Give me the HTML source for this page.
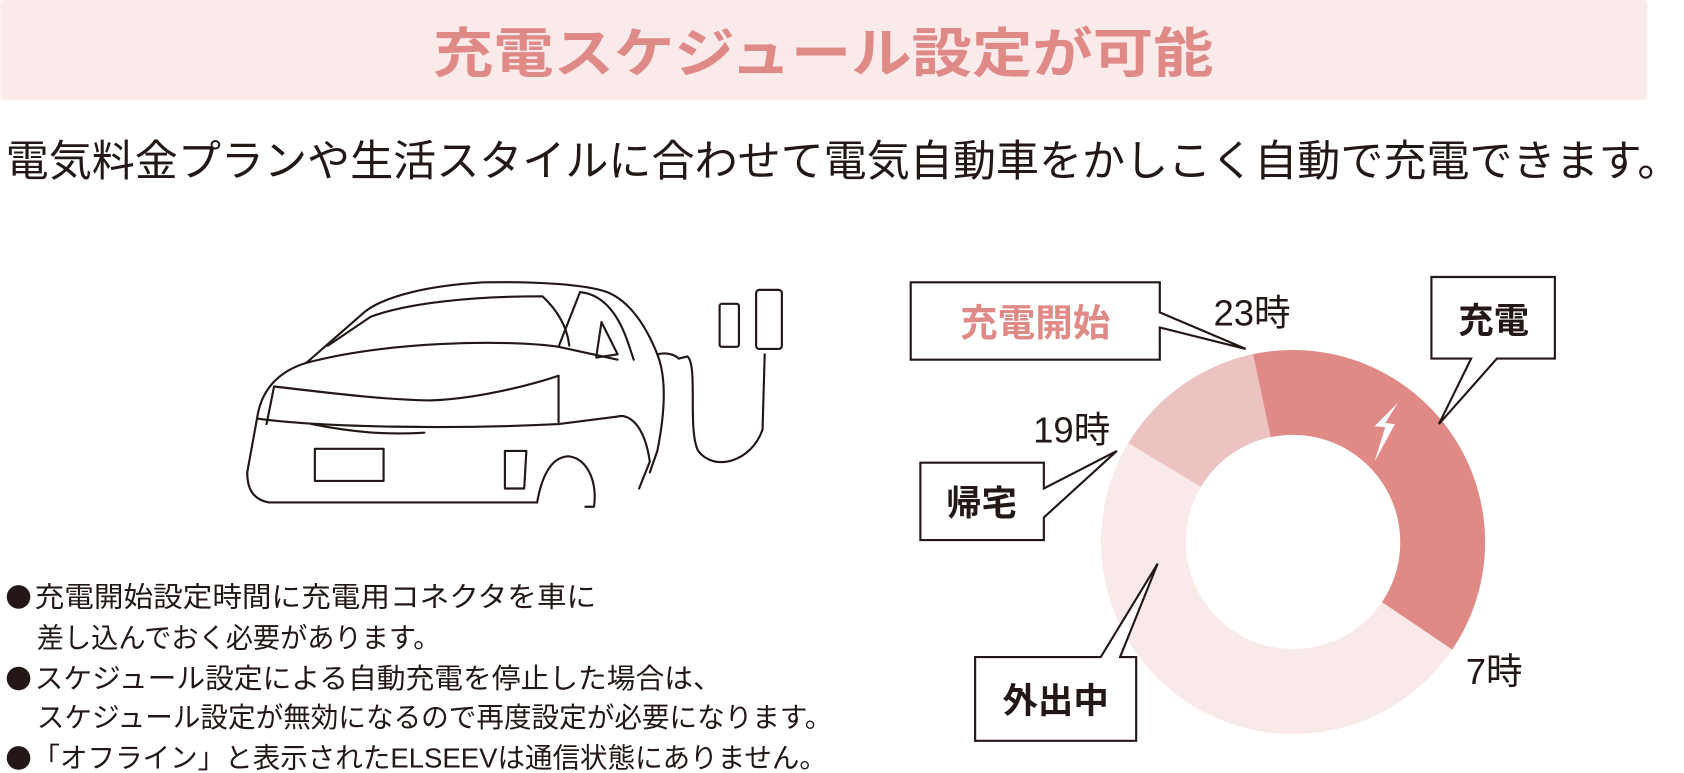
<!DOCTYPE html>
<html><head><meta charset="utf-8"><style>
html,body{margin:0;padding:0;background:#fff;}
svg{display:block;}
text{font-family:"Liberation Sans","Noto Sans CJK JP",sans-serif;}
</style></head><body>
<svg width="1684" height="773" viewBox="0 0 1568 720" xmlns="http://www.w3.org/2000/svg">
<rect x="0" y="0" width="1534" height="93" rx="3" fill="#fbeaea"/>
<text x="403" y="67" textLength="727" lengthAdjust="spacingAndGlyphs" font-size="50" font-weight="bold" fill="#e08a88">充電スケジュール設定が可能</text>
<text x="5" y="164" textLength="1560" lengthAdjust="spacingAndGlyphs" font-size="40" fill="#231815">電気料金プランや生活スタイルに合わせて電気自動車をかしこく自動で充電できます。</text>

<!-- car -->
<g fill="none" stroke="#231815" stroke-width="2" stroke-linejoin="round" stroke-linecap="round">
<path d="M240 385 C245 360 262 345 285 338 L340 290 C360 275 400 266 450 263 C500 262 545 265 565 272 C585 280 600 300 612 330 C620 350 620 380 612 420 L605 440"/>
<path d="M285 338 C360 318 470 316 520 323 L575 335"/>
<path d="M305 322 L345 295 C380 282 440 276 505 276 C520 290 528 305 530 322"/>
<path d="M240 385 L230 440 C230 455 235 465 250 468 L500 468"/>
<path d="M240 390 C300 398 420 400 520 395 L575 388"/>
<path d="M255 360 C300 365 350 372 400 373 C440 372 490 360 520 350"/>
<path d="M255 360 L248 395 M520 350 L520 395"/>
<path d="M290 395 C330 403 360 405 395 403"/>
<rect x="293" y="418" width="64" height="30"/>
<path d="M470 420 L490 420 L488 455 L470 455 Z"/>
<path d="M500 468 C505 440 515 425 530 425 C548 428 556 450 553 472 L545 472"/>
<path d="M520 323 L540 272 M540 272 C560 274 575 290 585 320 L590 335"/>
<path d="M560 300 L575 330 L555 333 Z"/>
<path d="M575 388 C585 385 600 395 605 430 L595 455"/>
<path d="M612 330 C620 328 628 330 632 334"/>
<path d="M632 334 L640 332 C650 340 640 400 650 420 C665 440 700 430 710 400 L712 330"/>
<rect x="670" y="283" width="18" height="40" rx="2"/>
<rect x="704" y="270" width="24" height="55" rx="3"/>
</g>

<!-- donut -->
<g transform="translate(1204,505)">
<path d="M-37.2,-175.1 A179,179 0 0 1 148.4,100.1 L82.9,55.9 A100,100 0 0 0 -20.8,-97.8 Z" fill="#e08a88"/>
<path d="M148.4,100.1 A179,179 0 0 1 -153.4,-92.2 L-85.7,-51.5 A100,100 0 0 0 82.9,55.9 Z" fill="#f9e9e9"/>
<path d="M-153.4,-92.2 A179,179 0 0 1 -37.2,-175.1 L-20.8,-97.8 A100,100 0 0 0 -85.7,-51.5 Z" fill="#edc3c2"/>
<path d="M98,-130 L76,-108 L86,-107 L76,-75 L95,-110 L86,-111 Z" fill="#fff"/>
</g>

<g fill="#fff" stroke="#231815" stroke-width="2">
<path d="M848 263 L1080 263 L1080 291 L1160 325 L1080 305 L1080 335 L848 335 Z"/>
<path d="M1333 258 L1448 258 L1448 334 L1394 334 L1340 395 L1370 334 L1333 334 Z"/>
<path d="M857 431 L972 431 L972 455 L1040 420 L972 482 L972 503 L857 503 Z"/>
<path d="M908 612 L1025 612 L1078 525 L1043 612 L1058 612 L1058 690 L908 690 Z"/>
</g>
<text x="964" y="313" text-anchor="middle" font-size="35" font-weight="bold" fill="#e08a88">充電開始</text>
<text x="1391" y="310" text-anchor="middle" font-size="33" font-weight="bold" fill="#231815">充電</text>
<text x="914" y="480" text-anchor="middle" font-size="33" font-weight="bold" fill="#231815">帰宅</text>
<text x="983" y="664" text-anchor="middle" font-size="33" font-weight="bold" fill="#231815">外出中</text>
<g font-size="34" fill="#231815">
<text x="1130" y="303">23時</text>
<text x="962" y="412">19時</text>
<text x="1365" y="637">7時</text>
</g>

<g fill="#231815">
<circle cx="17" cy="556" r="11"/>
<circle cx="17" cy="632" r="11"/>
<circle cx="17" cy="706" r="11"/>
</g>
<g font-size="26" fill="#231815">
<text x="32" y="565" textLength="523" lengthAdjust="spacingAndGlyphs">充電開始設定時間に充電用コネクタを車に</text>
<text x="34" y="603" textLength="376" lengthAdjust="spacingAndGlyphs">差し込んでおく必要があります。</text>
<text x="32" y="641" textLength="640" lengthAdjust="spacingAndGlyphs">スケジュール設定による自動充電を停止した場合は、</text>
<text x="34" y="677" textLength="741" lengthAdjust="spacingAndGlyphs">スケジュール設定が無効になるので再度設定が必要になります。</text>
<text x="30" y="715" textLength="740" lengthAdjust="spacingAndGlyphs">「オフライン」と表示されたELSEEVは通信状態にありません。</text>
</g>
</svg>
</body></html>
